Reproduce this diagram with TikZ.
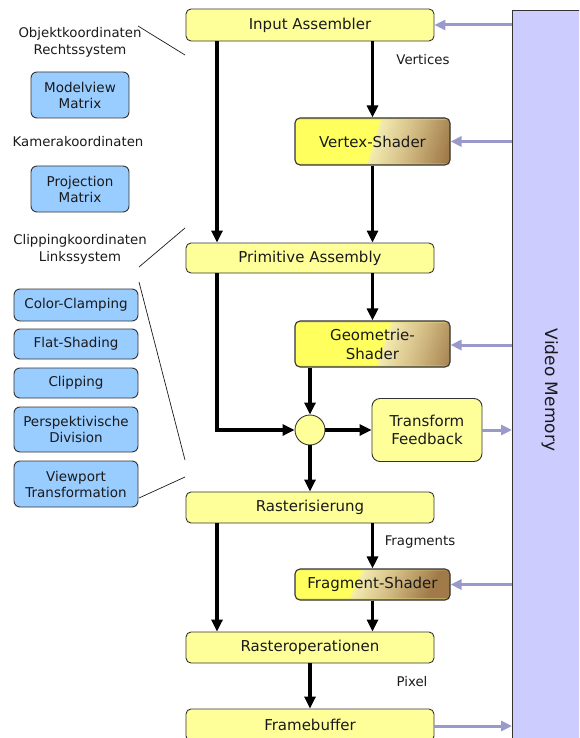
\documentclass[tikz,border=0pt]{standalone}
\usepackage{fontspec}
\setmainfont{DejaVu Sans}
\usetikzlibrary{arrows.meta}

\definecolor{boxyellow}{HTML}{FFFF99}
\definecolor{shadeyellow}{HTML}{FFFF5E}
\definecolor{shadepale}{HTML}{F3EBB0}
\definecolor{shadetan}{HTML}{D6C088}
\definecolor{shadebrown}{HTML}{A07A48}
\definecolor{matblue}{HTML}{99CCFF}
\definecolor{memfill}{HTML}{CCCCFF}
\definecolor{memarrow}{HTML}{9999CC}
\definecolor{edgegray}{HTML}{333333}
\definecolor{inkcol}{HTML}{1A1A1A}

% slanted yellow-to-brown fade for the programmable shader stages,
% built from thin stripes; #1 moves the colour edge sideways (pt)
\newcommand\shaderstripes[1]{%
  \foreach \s in {-100,-99,...,115}{%
    \pgfmathtruncatemacro\mixA{max(min(\s/3,1),0)*100}%
    \pgfmathtruncatemacro\mixB{min(max((\s-3)/32,0),1)*100}%
    \pgfmathtruncatemacro\mixC{min(max((\s-35)/45,0),1)*100}%
    \colorlet{stripeA}{shadepale!\mixA!shadeyellow}%
    \colorlet{stripeB}{shadetan!\mixB!stripeA}%
    \colorlet{stripeC}{shadebrown!\mixC!stripeB}%
    \fill[stripeC]
      ([xshift=#1pt+\s pt-8pt,yshift=-2pt]path picture bounding box.south)
      -- ([xshift=#1pt+\s pt+8pt,yshift=2pt]path picture bounding box.north)
      -- ([xshift=#1pt+\s pt+9.6pt,yshift=2pt]path picture bounding box.north)
      -- ([xshift=#1pt+\s pt-6.4pt,yshift=-2pt]path picture bounding box.south)
      -- cycle;
  }}

\tikzset{
  stage/.style={draw=edgegray, line width=0.9pt, rounded corners=5pt,
    fill=boxyellow, minimum width=248pt, minimum height=31pt,
    inner sep=0pt, text=inkcol, font=\fontsize{15}{19}\selectfont, align=center},
  shaderbox/.style={stage, minimum width=155pt, line width=1.1pt,
    fill=shadetan!60!shadeyellow, path picture={\shaderstripes{#1}}},
  shaderbox/.default=0,
  matbox/.style={draw=edgegray, line width=0.9pt, rounded corners=6pt,
    fill=matblue, minimum width=124pt, inner sep=0pt, text=inkcol,
    font=\fontsize{13.5}{16}\selectfont, align=center},
  lbl/.style={font=\fontsize{13.3}{17}\selectfont, align=center,
    inner sep=0pt, text=inkcol},
  flow/.style={line width=3.8pt, -{Triangle[length=12pt,width=11pt]}},
  memflow/.style={draw=memarrow, line width=3pt,
    -{Triangle[length=11pt,width=10pt]}},
  guide/.style={line width=0.7pt, draw=inkcol},
}

\begin{document}
\begin{tikzpicture}[x=1pt, y=-1pt]
\useasboundingbox (0,0) rectangle (579,738);
\clip (0,0) rectangle (579,738);

% video memory column
\node (vm) [draw=edgegray, line width=1pt, fill=memfill, anchor=north west,
  minimum width=90pt, minimum height=760pt, inner sep=0pt] at (512,10) {};
\node (vmtext) [rotate=-90, anchor=base, inner sep=0pt, text=inkcol,
  font=\fontsize{17}{20}\selectfont] at (545,390) {Video Memory};

% pipeline stages
\node (ia) [stage, minimum height=32pt] at (310,25) {Input Assembler};
\node (vs) [shaderbox=0, minimum height=47pt] at (372.5,141.5) {Vertex-Shader};
\node (pa) [stage, minimum height=30pt] at (310,258) {Primitive Assembly};
\node (gs) [shaderbox=10, minimum height=46pt] at (372.5,344) {Geometrie-\\Shader};
\node (mix) [circle, draw=edgegray, line width=0.9pt, fill=boxyellow,
  minimum size=30pt, inner sep=0pt] at (310,430) {};
\node (tf) [stage, rounded corners=8pt, minimum width=110pt,
  minimum height=63pt, font=\fontsize{15}{18}\selectfont] at (427,430)
  {Transform\\Feedback};
\node (ra) [stage] at (310,507.5) {Rasterisierung};
\node (fs) [shaderbox=-18] at (372.5,584.5) {Fragment-Shader};
\node (ro) [stage] at (310,647.5) {Rasteroperationen};
\node (fb) [stage, minimum height=32pt] at (310,725) {Framebuffer};

% data flow
\draw[flow] ([xshift=-93pt]ia.south) -- ([xshift=-93pt]pa.north);
\draw[flow] (ia.south -| vs.north) -- (vs.north);
\draw[flow] (vs.south) -- (pa.north -| vs.south);
\draw[flow] (pa.south -| gs.north) -- (gs.north);
\draw[flow] (gs.south -| mix.north) -- (mix.north);
\draw[flow] ([xshift=-93pt]pa.south) |- (mix.west);
\draw[flow] (mix.east) -- (tf.west);
\draw[flow] (mix.south) -- (ra.north);
\draw[flow] ([xshift=-93pt]ra.south) -- ([xshift=-93pt]ro.north);
\draw[flow] (ra.south -| fs.north) -- (fs.north);
\draw[flow] (fs.south) -- (ro.north -| fs.south);
\draw[flow] (ro.south) -- (fb.north);

% memory access
\draw[memflow] (ia.east -| vm.west) -- (ia.east);
\draw[memflow] (vs.east -| vm.west) -- (vs.east);
\draw[memflow] ([yshift=-1pt]gs.east -| vm.west) -- ([yshift=-1pt]gs.east);
\draw[memflow] (tf.east) -- (tf.east -| vm.west);
\draw[memflow] (fs.east -| vm.west) -- (fs.east);
\draw[memflow] ([yshift=-1pt]fb.east) -- ([yshift=-1pt]fb.east -| vm.west);

% stream labels
\node (lvert) [lbl] at (423,60) {Vertices};
\node (lfrag) [lbl] at (420,542) {Fragments};
\node (lpix) [lbl] at (412,682) {Pixel};

% coordinate systems and fixed-function steps
\node (objk) [lbl] at (80,42) {Objektkoordinaten\\Rechtssystem};
\node (mv) [matbox, minimum width=98pt, minimum height=46pt] at (80,95)
  {Modelview\\Matrix};
\node (kam) [lbl] at (78,142) {Kamerakoordinaten};
\node (pm) [matbox, minimum width=98pt, minimum height=46pt] at (80,189)
  {Projection\\Matrix};
\node (clipk) [lbl] at (80,249) {Clippingkoordinaten\\Linkssystem};
\node (cc) [matbox, minimum height=32pt] at (76,305) {Color-Clamping};
\node (flat) [matbox, minimum height=30pt] at (76,344) {Flat-Shading};
\node (clp) [matbox, minimum height=30pt] at (76,383) {Clipping};
\node (pd) [matbox, minimum height=45pt] at (76,429.5)
  {Perspektivische\\Division};
\node (vpt) [matbox, minimum height=46pt] at (76,484)
  {Viewport\\Transformation};

% guide lines tying the coordinate systems to the pipeline
\coordinate (g1a) at (138,26);  \coordinate (g1b) at (185,55);
\coordinate (g2a) at (185,228); \coordinate (g2b) at (139,267);
\coordinate (g3a) at (139,282); \coordinate (g3b) at (185,460);
\coordinate (g4a) at (139,498); \coordinate (g4b) at (185,477);
\draw[guide] (g1a) -- (g1b);
\draw[guide] (g2a) -- (g2b);
\draw[guide] (g3a) -- (g3b);
\draw[guide] (g4a) -- (g4b);
\end{tikzpicture}
\end{document}
